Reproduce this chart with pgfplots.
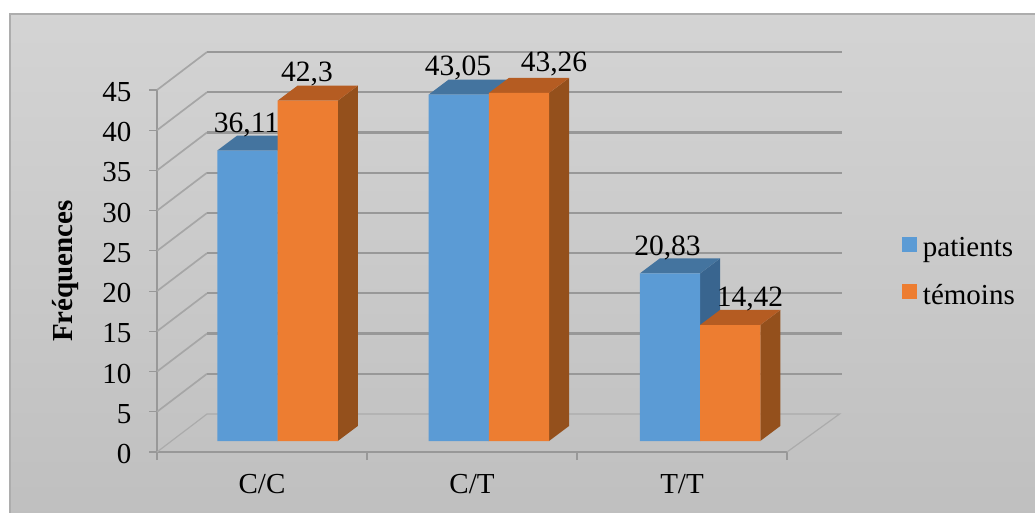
\documentclass[border=0pt]{standalone}
\usepackage{pgfplots}
\pgfplotsset{compat=1.18}
\usepackage{fontspec}
\setmainfont{Liberation Serif}

\definecolor{barblue}{HTML}{5B9BD5}
\definecolor{barblueside}{HTML}{39658F}
\definecolor{barbluetop}{HTML}{44749F}
\definecolor{barorange}{HTML}{ED7D31}
\definecolor{barorangeside}{HTML}{94501C}
\definecolor{barorangetop}{HTML}{B55C22}
\definecolor{wallgrid}{HTML}{989898}
\definecolor{sidegrid}{HTML}{A6A6A6}
\definecolor{floorline}{HTML}{ABABAB}

\newcommand{\chartfont}{\fontsize{29}{31}\selectfont}
\newcommand{\valuefont}{\fontsize{29.5}{31}\selectfont}

% Receding wall line at one value: along the side wall, then across the back wall
\newcommand{\wallline}[1]{%
  \addplot[sidegrid,line width=1.7pt,mark=none,forget plot] coordinates {(0,#1) (0.238,#1+4.72)};
  \addplot[wallgrid,line width=2.2pt,mark=none,forget plot] coordinates {(0.238,#1+4.72) (3.262,#1+4.72)};
}

% Side and top faces of a bar: left edge, right edge, value
\newcommand{\barfaces}[5]{%
  \addplot[fill=#4,draw=none,mark=none,forget plot] coordinates
    {(#2,0) (#2+0.0947,1.865) (#2+0.0947,#3+1.865) (#2,#3)};
  \addplot[fill=#5,draw=none,mark=none,forget plot] coordinates
    {(#1,#3) (#1+0.0947,#3+1.865) (#2+0.0947,#3+1.865) (#2,#3)};
}

\begin{document}
\begin{tikzpicture}[x=1pt,y=1pt]
\useasboundingbox (0,0) rectangle (1035,512);
\fill[white] (0,0) rectangle (1035,512);
\shade[top color=black!17,bottom color=black!25,draw=black!32,line width=1.2pt]
  (10,-5) rectangle (1045,498);

% Front axis with its side wall, back wall and floor
\begin{axis}[
  at={(157pt,60pt)},anchor=origin,
  scale only axis,width=630pt,height=362pt,
  xmin=0,xmax=3,ymin=0,ymax=45,clip=false,
  axis x line=bottom,axis y line=left,
  axis line style={-,draw=wallgrid,line width=2.2pt},
  tick style={draw=wallgrid,line width=1.2pt},
  tick align=outside,major tick length=8pt,
  xtick={0,1,2,3},xticklabels={C/C,C/T,T/T},
  x tick label as interval=true,
  ytick={0,5,...,45},
  /pgf/number format/assume math mode=true,
  tick label style={font=\chartfont,text=black},
  y tick label style={xshift=-14pt,yshift=-2pt},
  x tick label style={yshift=-11pt},
  every axis y label/.style={at={(axis description cs:-0.1445,0.5)},rotate=90,anchor=center},
  ylabel={\fontsize{29}{31}\selectfont\bfseries Fréquences},
]
\wallline{5}\wallline{10}\wallline{15}\wallline{20}\wallline{25}
\wallline{30}\wallline{35}\wallline{40}\wallline{45}
% Floor outline
\addplot[floorline,line width=1.2pt,mark=none,forget plot] coordinates
  {(0,0) (0.238,4.72) (3.25,4.72) (3,0)};
\end{axis}

% Bars in their own plane, set back from the front axis
\begin{axis}[
  at={(171.9pt,71pt)},anchor=origin,
  scale only axis,width=633.75pt,height=362pt,
  xmin=0,xmax=3,ymin=0,ymax=45,clip=false,
  hide axis,
  legend style={at={(1.152,0.5685)},anchor=north west,draw=none,fill=none,
    inner sep=0pt,outer sep=0pt,font=\chartfont,
    legend cell align=left,row sep=22pt,
    /tikz/every odd column/.append style={column sep=4pt}},
]
% patients: depth faces, then fronts
\barfaces{0.2148}{0.5}{36.11}{barblueside}{barbluetop}
\barfaces{1.2148}{1.5}{43.05}{barblueside}{barbluetop}
\barfaces{2.2148}{2.5}{20.83}{barblueside}{barbluetop}
\addplot[ybar,bar width=60.25pt,bar shift=-30.125pt,fill=barblue,draw=none,
  legend image code/.code={\fill[barblue] (0pt,-4pt) rectangle (15pt,11pt);}]
  coordinates {(0.5,36.11) (1.5,43.05) (2.5,20.83)};
\addlegendentry{patients}
% témoins: depth faces, then fronts
\barfaces{0.5}{0.7852}{42.3}{barorangeside}{barorangetop}
\barfaces{1.5}{1.7852}{43.26}{barorangeside}{barorangetop}
\barfaces{2.5}{2.7852}{14.42}{barorangeside}{barorangetop}
\addplot[ybar,bar width=60.25pt,bar shift=30.125pt,fill=barorange,draw=none,
  legend image code/.code={\fill[barorange] (0pt,-4pt) rectangle (15pt,11pt);}]
  coordinates {(0.5,42.3) (1.5,43.26) (2.5,14.42)};
\addlegendentry{témoins}
% Value labels above the bars
\tikzset{vlabel/.style={font=\valuefont,anchor=base,inner sep=0pt,text=black}}
\node[vlabel,xshift=-31pt,yshift=18pt] at (axis cs:0.5,36.11) {36,11};
\node[vlabel,xshift=29.5pt,yshift=19pt] at (axis cs:0.5,42.3) {42,3};
\node[vlabel,xshift=-30.8pt,yshift=18.7pt] at (axis cs:1.5,43.05) {43,05};
\node[vlabel,xshift=65.2pt,yshift=21pt] at (axis cs:1.5,43.26) {43,26};
\node[vlabel,xshift=-32.5pt,yshift=18.4pt] at (axis cs:2.5,20.83) {20,83};
\node[vlabel,xshift=50pt,yshift=19pt] at (axis cs:2.5,14.42) {14,42};
\end{axis}
\end{tikzpicture}
\end{document}
